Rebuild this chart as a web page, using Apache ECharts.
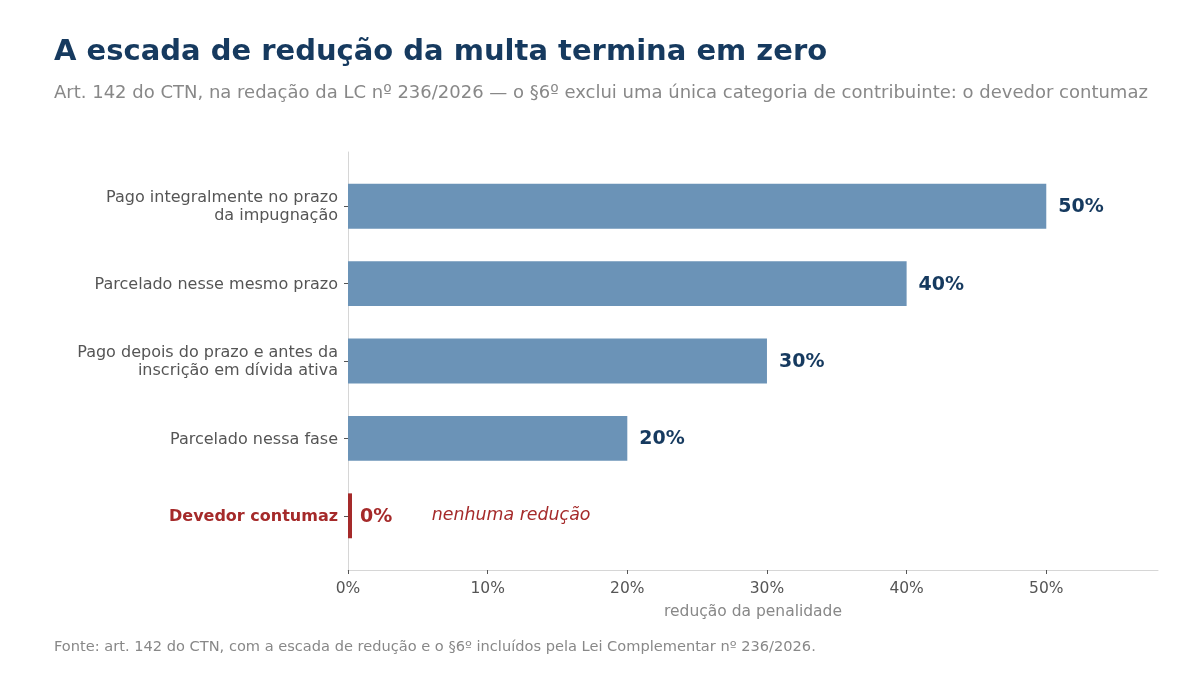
<!DOCTYPE html>
<html>
<head>
<meta charset="utf-8">
<script src="https://cdn.jsdelivr.net/npm/echarts@6/dist/echarts.min.js"></script>
<style>
  html, body { margin: 0; padding: 0; background: #fff; }
  #main { width: 1200px; height: 675px; }
</style>
</head>
<body>
<div id="main"></div>
<script>
// dados
var categories = [
    'Pago integralmente no prazo\nda impugnação',
    'Parcelado nesse mesmo prazo',
    'Pago depois do prazo e antes da\ninscrição em dívida ativa',
    'Parcelado nessa fase',
    'Devedor contumaz'
];
var reductions = [50, 40, 30, 20, 0];
var notes = ['', '', '', '', 'nenhuma redução'];
var xTicks = [0, 10, 20, 30, 40, 50];

var NAVY = '#163a5f';
var BLUE = '#6b93b7';
var RED = '#a52a2a';
var FONT = 'DejaVu Sans';

var myChart = echarts.init(document.getElementById('main'));

var seriesData = reductions.map(function (v, i) { return [v, i]; });

myChart.setOption({
    animation: false,
    textStyle: { fontFamily: FONT },
    title: [{
        text: 'A escada de redução da multa termina em zero',
        left: 54, top: 38, padding: 0,
        textStyle: { fontFamily: FONT, fontSize: 29, fontWeight: 'bold', color: NAVY }
    }, {
        text: 'Art. 142 do CTN, na redação da LC nº 236/2026 — o §6º exclui uma única categoria de contribuinte: o devedor contumaz',
        left: 54, top: 84, padding: 0,
        textStyle: { fontFamily: FONT, fontSize: 18, fontWeight: 'normal', color: '#888888' }
    }, {
        text: 'Fonte: art. 142 do CTN, com a escada de redução e o §6º incluídos pela Lei Complementar nº 236/2026.',
        left: 54, top: 640, padding: 0,
        textStyle: { fontFamily: FONT, fontSize: 14.6, fontWeight: 'normal', color: '#888888' }
    }],
    grid: { left: 348, right: 42, top: 152, bottom: 105 },
    xAxis: {
        type: 'value',
        min: 0, max: 58,
        name: 'redução da penalidade',
        nameLocation: 'middle',
        nameGap: 34,
        nameTextStyle: { fontFamily: FONT, fontSize: 15.5, color: '#888888' },
        axisLine: { show: true, onZero: false, lineStyle: { color: '#d6d6d6', width: 1 } },
        axisTick: { show: true, length: 4, lineStyle: { color: '#555' }, customValues: xTicks },
        splitLine: { show: false },
        axisLabel: {
            customValues: xTicks,
            formatter: function (v) { return v + '%'; },
            fontFamily: FONT, fontSize: 15.5, color: '#555555', margin: 11
        }
    },
    yAxis: {
        type: 'value',
        inverse: true,
        min: -0.7, max: 4.7,
        axisLine: { show: true, onZero: false, lineStyle: { color: '#d6d6d6', width: 1 } },
        axisTick: { show: true, length: 4, lineStyle: { color: '#555' }, customValues: [0, 1, 2, 3, 4] },
        splitLine: { show: false },
        axisLabel: {
            customValues: [0, 1, 2, 3, 4],
            margin: 10,
            align: 'right',
            lineHeight: 18,
            padding: [2, 0, 0, 0],
            fontFamily: FONT, fontSize: 16, color: '#555555',
            formatter: function (v) {
                var i = Math.round(v);
                if (i === 4) return '{red|' + categories[i] + '}';
                return categories[i];
            },
            rich: {
                red: { fontFamily: FONT, fontSize: 16, fontWeight: 'bold', color: RED }
            }
        }
    },
    series: [{
        type: 'custom',
        data: seriesData,
        renderItem: function (params, api) {
            var v = api.value(0);
            var i = api.value(1);
            var p0 = api.coord([0, i]);
            var p1 = api.coord([v, i]);
            var h = api.size([0, 0.58])[1];
            var isZero = v === 0;
            var w = Math.max(p1[0] - p0[0], 4);
            var col = isZero ? RED : BLUE;
            var children = [{
                type: 'rect',
                shape: { x: p0[0], y: p0[1] - h / 2, width: w, height: h },
                style: { fill: col }
            }, {
                type: 'text',
                x: p0[0] + w + (isZero ? 8 : 12),
                y: p1[1] + 1,
                style: {
                    text: v + '%',
                    fill: isZero ? RED : NAVY,
                    font: 'bold 19px "DejaVu Sans"',
                    textVerticalAlign: 'middle',
                    textAlign: 'left'
                }
            }];
            if (notes[i]) {
                var pn = api.coord([6, i]);
                children.push({
                    type: 'text',
                    x: pn[0],
                    y: pn[1],
                    style: {
                        text: notes[i],
                        fill: RED,
                        font: 'italic 17.4px "DejaVu Sans"',
                        textVerticalAlign: 'middle',
                        textAlign: 'left'
                    }
                });
            }
            return { type: 'group', children: children };
        }
    }]
});
</script>
</body>
</html>
